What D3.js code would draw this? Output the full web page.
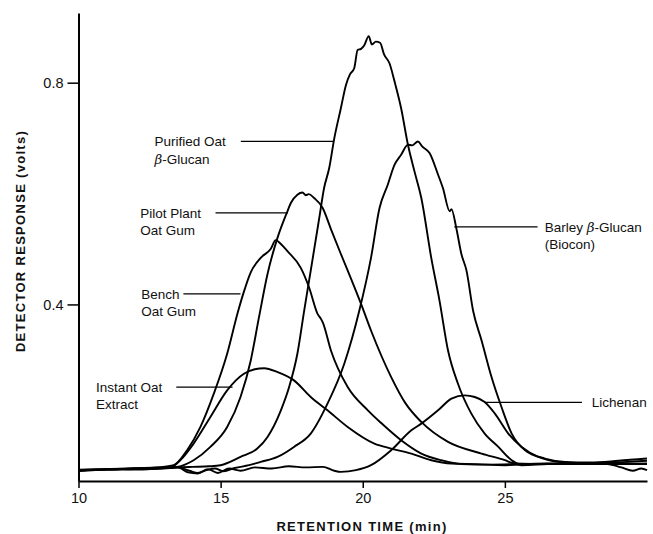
<!DOCTYPE html>
<html>
<head>
<meta charset="utf-8">
<script src="https://cdn.jsdelivr.net/npm/d3@7"></script>
<style>
body { margin: 0; background: #fff; }
svg { display: block; font-family: "Liberation Sans", Arial, sans-serif; }
</style>
</head>
<body>
<script>
// retention time (min), detector response (volts)
var purifiedOat = [[10,0.101],[11,0.103],[12,0.102],[13,0.105],[14,0.107],[14.6,0.108],[15.0,0.110],[15.7,0.125],[16.29,0.140],[16.65,0.161],[17.12,0.209],[17.41,0.251],[17.70,0.311],[17.94,0.389],[18.17,0.461],[18.47,0.556],[18.64,0.610],[18.82,0.646],[19.0,0.700],[19.23,0.754],[19.41,0.796],[19.55,0.815],[19.70,0.826],[19.82,0.859],[19.94,0.861],[20.05,0.867],[20.21,0.884],[20.32,0.869],[20.46,0.874],[20.61,0.872],[20.75,0.851],[20.94,0.835],[21.12,0.802],[21.35,0.754],[21.59,0.688],[21.82,0.640],[22.06,0.592],[22.41,0.484],[22.70,0.407],[23.0,0.317],[23.35,0.257],[23.82,0.203],[24.29,0.167],[24.77,0.143],[25.24,0.119],[25.59,0.110],[26.5,0.112],[27.5,0.113],[28.5,0.114],[29.3,0.116],[30,0.118]];
var pilotPlant = [[10,0.100],[11,0.102],[12,0.104],[13,0.105],[13.47,0.107],[14.05,0.119],[14.64,0.143],[15.23,0.179],[15.70,0.233],[16.06,0.299],[16.35,0.377],[16.65,0.455],[17.0,0.520],[17.35,0.568],[17.47,0.583],[17.70,0.598],[17.88,0.602],[18.0,0.597],[18.10,0.599],[18.29,0.592],[18.59,0.574],[18.88,0.536],[19.23,0.491],[19.59,0.446],[19.94,0.401],[20.29,0.353],[21.0,0.269],[21.5,0.222],[22.06,0.188],[23.0,0.152],[24.18,0.131],[25.0,0.119],[25.35,0.113],[26.5,0.112],[27.5,0.114],[28.5,0.112],[30,0.113]];
var benchOat = [[10,0.100],[11,0.103],[12,0.104],[12.8,0.106],[13.35,0.110],[13.82,0.137],[14.29,0.179],[14.76,0.239],[15.23,0.311],[15.6,0.385],[15.8,0.420],[16.06,0.458],[16.41,0.484],[16.76,0.500],[16.94,0.516],[17.12,0.509],[17.35,0.496],[17.82,0.466],[18.11,0.431],[18.41,0.383],[18.53,0.374],[18.59,0.368],[18.88,0.317],[19.47,0.251],[20.18,0.209],[20.65,0.186],[21.35,0.155],[22.06,0.131],[22.76,0.119],[23.47,0.112],[24.5,0.111],[25.5,0.112],[26.5,0.113],[27.5,0.112],[28.5,0.113],[30,0.112]];
var instantOat = [[10,0.102],[11,0.103],[12,0.104],[12.8,0.106],[13.23,0.106],[13.58,0.119],[14.05,0.149],[14.64,0.197],[15.23,0.245],[15.82,0.275],[16.2,0.283],[16.53,0.285],[17.0,0.278],[17.58,0.263],[18.17,0.233],[18.76,0.209],[19.47,0.179],[20.41,0.149],[21.0,0.140],[21.71,0.131],[22.41,0.119],[23.12,0.113],[24,0.112],[25,0.110],[26,0.112],[27,0.113],[28,0.112],[29,0.113],[30,0.112]];
var barley = [[10,0.100],[11,0.102],[12,0.103],[13,0.104],[13.5,0.106],[13.9,0.100],[14.2,0.096],[14.5,0.101],[14.8,0.104],[15.1,0.099],[15.5,0.105],[16.0,0.110],[16.41,0.116],[17.0,0.125],[17.58,0.143],[18.17,0.167],[18.76,0.221],[19.35,0.293],[19.88,0.389],[20.29,0.484],[20.59,0.574],[20.88,0.616],[21.12,0.652],[21.35,0.670],[21.59,0.688],[21.74,0.687],[21.94,0.694],[22.09,0.685],[22.35,0.673],[22.65,0.634],[22.82,0.610],[23.06,0.568],[23.12,0.572],[23.29,0.538],[23.47,0.491],[23.65,0.461],[23.88,0.389],[24.18,0.335],[24.53,0.269],[24.88,0.215],[25.24,0.167],[25.71,0.137],[26.41,0.122],[27.12,0.116],[28.0,0.115],[29.0,0.118],[30,0.122]];
var lichenan = [[10,0.101],[11,0.102],[12,0.104],[13,0.105],[13.5,0.106],[13.85,0.097],[14.2,0.095],[14.55,0.103],[14.9,0.096],[15.3,0.104],[15.7,0.100],[16.2,0.106],[16.8,0.104],[17.4,0.108],[18.0,0.106],[18.6,0.107],[19.0,0.100],[19.23,0.098],[19.76,0.101],[20.29,0.110],[21.0,0.137],[21.71,0.173],[22.06,0.185],[22.65,0.209],[23.12,0.230],[23.59,0.236],[23.94,0.233],[24.29,0.224],[24.65,0.203],[25.12,0.167],[25.59,0.143],[26.18,0.125],[26.89,0.116],[27.8,0.113],[28.6,0.112],[29.1,0.106],[29.5,0.100],[29.8,0.104],[30,0.101]];

var series = [purifiedOat, pilotPlant, benchOat, instantOat, barley, lichenan];
var xTicks = [10, 15, 20, 25];
var yTicks = [0.4, 0.8];

// label text + where it sits (data units): text x, leader y, leader from/to
var labels = [
    {lines: ['Purified Oat', 'β-Glucan'], tx: 12.67, v: 0.694, x0: 15.71, x1: 18.99},
    {lines: ['Pilot Plant', 'Oat Gum'], tx: 12.17, v: 0.565, x0: 14.82, x1: 17.36},
    {lines: ['Bench', 'Oat Gum'], tx: 12.21, v: 0.419, x0: 13.69, x1: 15.70},
    {lines: ['Instant Oat', 'Extract'], tx: 10.62, v: 0.251, x0: 13.44, x1: 15.42},
    {lines: ['Barley β-Glucan', '(Biocon)'], tx: 26.40, v: 0.540, x0: 23.22, x1: 26.15},
    {lines: ['Lichenan'], tx: 28.06, v: 0.2235, x0: 24.28, x1: 27.71}
];

var width = 653;
var height = 534;

var x = d3.scaleLinear().domain([10, 30]).range([78.5, 647]);
var y = d3.scaleLinear().domain([0.0815, 0.9257]).range([481, 13]);

var svg = d3.select('body').append('svg').attr('width', width).attr('height', height);

var xAxis = d3.axisBottom(x)
    .tickValues(xTicks)
    .tickSize(7)
    .tickPadding(5)
    .tickSizeOuter(0)
    .tickFormat(d3.format('d'));

var yAxis = d3.axisLeft(y)
    .tickValues(yTicks)
    .tickSize(11)
    .tickPadding(4)
    .tickSizeOuter(0)
    .tickFormat(d3.format('.1f'));

var gx = svg.append('g').attr('transform', 'translate(0,' + y.range()[0] + ')').call(xAxis);
var gy = svg.append('g').attr('transform', 'translate(' + x.range()[0] + ',0)').call(yAxis);

[gx, gy].forEach(function(g) {
    g.select('.domain').attr('stroke', '#000').attr('stroke-width', 2);
    g.selectAll('.tick line').attr('stroke', '#000').attr('stroke-width', 1.5);
    g.selectAll('.tick text').attr('font-size', 14.5).attr('fill', '#111')
        .attr('font-family', '"Liberation Sans", Arial, sans-serif');
});

var line = d3.line()
    .x(function(d) { return x(d[0]); })
    .y(function(d) { return y(d[1]); })
    .curve(d3.curveMonotoneX);

svg.append('g').selectAll('path')
    .data(series)
    .enter().append('path')
    .attr('d', line)
    .attr('fill', 'none')
    .attr('stroke', '#000')
    .attr('stroke-width', 1.9)
    .attr('stroke-linejoin', 'round');

// labels with leader lines
var lab = svg.append('g').attr('font-size', 13.5).attr('fill', '#111');
labels.forEach(function(l) {
    lab.append('line')
        .attr('x1', x(l.x0)).attr('x2', x(l.x1))
        .attr('y1', y(l.v)).attr('y2', y(l.v))
        .attr('stroke', '#000').attr('stroke-width', 1.3);
    l.lines.forEach(function(s, i) {
        var t = lab.append('text')
            .attr('x', x(l.tx))
            .attr('y', y(l.v) + i * 17.5)
            .attr('dy', '0.35em');
        var parts = s.split('β');
        t.append('tspan').text(parts[0]);
        if (parts.length > 1) {
            t.append('tspan').attr('font-style', 'italic').attr('font-family', '"DejaVu Serif", serif').text('β');
            t.append('tspan').text(parts[1]);
        }
    });
});

// axis titles
svg.append('text')
    .attr('x', 362).attr('y', 531)
    .attr('text-anchor', 'middle')
    .attr('font-size', 13).attr('font-weight', 'bold')
    .attr('letter-spacing', 1.3)
    .attr('fill', '#111')
    .text('RETENTION TIME (min)');

svg.append('text')
    .attr('transform', 'translate(25,241) rotate(-90)')
    .attr('text-anchor', 'middle')
    .attr('font-size', 13).attr('font-weight', 'bold')
    .attr('letter-spacing', 1.3)
    .attr('fill', '#111')
    .text('DETECTOR RESPONSE (volts)');
</script>
</body>
</html>
